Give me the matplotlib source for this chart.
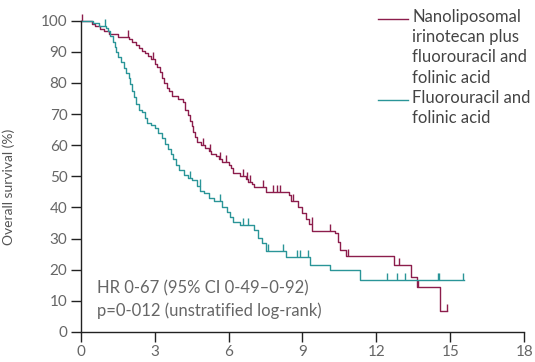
import numpy as np
import matplotlib
matplotlib.use("Agg")
import matplotlib.pyplot as plt
from matplotlib.lines import Line2D
from matplotlib.markers import TICKUP

plt.rcParams['font.family'] = ['Lato', 'DejaVu Sans']

# Kaplan-Meier steps: time of each drop (months) and survival after it (%)
nal_t = [0, 0.45, 0.6, 0.8, 0.95, 1.15, 1.5, 1.95, 2.1, 2.25, 2.35, 2.5, 2.6, 2.75,
         2.85, 3.0, 3.1, 3.2, 3.3, 3.4, 3.5, 3.6, 3.7, 3.95, 4.15, 4.25, 4.35, 4.45,
         4.5, 4.56, 4.62, 4.72, 4.9, 5.05, 5.2, 5.3, 5.5, 5.6, 5.75, 6.0, 6.1, 6.2,
         6.45, 6.7, 6.8, 6.95, 7.05, 7.5, 8.45, 8.55, 8.8, 9.0, 9.15, 9.25, 9.4,
         10.3, 10.45, 10.52, 10.75, 12.7, 13.4, 13.65, 14.58]
nal_s = [100, 99.1, 98.3, 97.4, 96.6, 95.7, 94.9, 94.0, 93.1, 92.2, 91.3, 90.4, 89.5, 88.6,
         87.7, 86.0, 85.1, 83.4, 81.7, 80.0, 78.3, 77.4, 75.7, 74.8, 73.9, 71.3, 69.6, 67.9,
         66.1, 64.4, 62.6, 60.9, 60.0, 59.1, 58.2, 57.3, 56.4, 55.5, 54.6, 53.7, 52.8, 51.0,
         50.1, 49.2, 48.3, 47.4, 46.5, 44.9, 43.9, 42.2, 40.3, 38.1, 36.4, 34.7, 32.6,
         31.7, 29.0, 26.3, 24.5, 21.5, 17.7, 14.3, 6.8]
nal_end = 14.85
nal_cens = [0.05, 1.93, 2.95, 4.98, 5.25, 5.66, 5.9, 6.6, 6.75, 6.87, 7.4, 7.8, 7.96,
            8.09, 8.63, 9.37, 10.12, 10.85, 12.9, 13.7, 14.85]

ff_t = [0, 0.5, 0.75, 1.02, 1.1, 1.2, 1.3, 1.38, 1.45, 1.52, 1.62, 1.75, 1.85, 1.95,
        2.02, 2.1, 2.18, 2.25, 2.35, 2.5, 2.6, 2.7, 2.85, 3.0, 3.15, 3.3, 3.42, 3.55,
        3.65, 3.75, 3.85, 4.0, 4.2, 4.35, 4.5, 4.7, 4.85, 5.0, 5.2, 5.4, 5.75, 5.95,
        6.05, 6.2, 6.45, 7.05, 7.2, 7.35, 7.5, 8.35, 9.3, 10.1, 11.35]
ff_s = [100, 99.2, 98.3, 97.5, 96.6, 95.0, 93.3, 91.6, 89.9, 88.2, 86.6, 84.9, 83.2, 81.5,
        79.8, 77.3, 75.6, 73.1, 71.4, 70.6, 68.9, 67.2, 66.4, 65.5, 63.8, 62.2, 60.5, 58.8,
        57.1, 55.5, 53.8, 52.1, 50.4, 49.6, 48.7, 47.0, 45.4, 44.5, 42.9, 42.0, 40.3, 38.6,
        37.0, 35.3, 34.4, 32.7, 30.2, 28.5, 26.0, 24.0, 21.4, 19.8, 16.7]
ff_end = 15.55
ff_cens = [0.97, 4.44, 4.84, 5.66, 6.6, 6.8, 7.6, 8.22, 8.77, 8.9, 9.24, 12.42, 12.82,
           13.16, 14.5, 14.55, 15.53]

labels = ["Nanoliposomal\nirinotecan plus\nfluorouracil and\nfolinic acid",
          "Fluorouracil and\nfolinic acid"]
colors = ["#8c1d4c", "#2a9598"]
xticks = [0, 3, 6, 9, 12, 15, 18]
yticks = list(range(0, 101, 10))
stats = "HR 0-67 (95% CI 0-49\u20130-92)\np=0-012 (unstratified log-rank)"

fig = plt.figure(figsize=(5.35, 3.62), dpi=100)
ax = fig.add_axes([0.1508, 0.0829, 0.8292, 0.8599])

for t, s, end, cens, c in [(nal_t, nal_s, nal_end, nal_cens, colors[0]),
                           (ff_t, ff_s, ff_end, ff_cens, colors[1])]:
    t = np.append(t, end)
    s = np.append(s, s[-1])
    ax.step(t, s, where='post', color=c, lw=1.0, clip_on=False)
    idx = np.searchsorted(t, cens, side='right') - 1
    ax.plot(cens, s[idx], ls='none', marker=TICKUP, ms=5, mew=1.0, color=c, clip_on=False)

ax.set_xlim(0, 18)
ax.set_ylim(0, 100)
ax.set_xticks(xticks)
ax.set_yticks(yticks)
for side in ['top', 'right']:
    ax.spines[side].set_visible(False)
for side in ['left', 'bottom']:
    ax.spines[side].set_linewidth(1.0)
    ax.spines[side].set_color('#222222')
ax.tick_params(direction='out', length=7.5, width=1.0, color='#222222',
               labelcolor='#666666', labelsize=11, pad=2)

ax.set_ylabel('Overall survival (%)', fontsize=10, color='#555555')
ax.yaxis.set_label_coords(-0.148, 0.465)

ax.text(0.65, 10.4, stats, ha='left', va='center', fontsize=12,
        color='#666666', linespacing=1.4)

# legend drawn by hand so the swatch sits on the first text line
for y_line, y_text, lab, c in [(0.9475, 0.976, labels[0], colors[0]),
                               (0.7238, 0.752, labels[1], colors[1])]:
    fig.add_artist(Line2D([0.7065, 0.7626], [y_line, y_line], color=c, lw=1.0,
                          transform=fig.transFigure))
    fig.text(0.771, y_text, lab, ha='left', va='top', fontsize=12,
             color='#444444', linespacing=1.33)

fig.savefig('out.png', dpi=100)
